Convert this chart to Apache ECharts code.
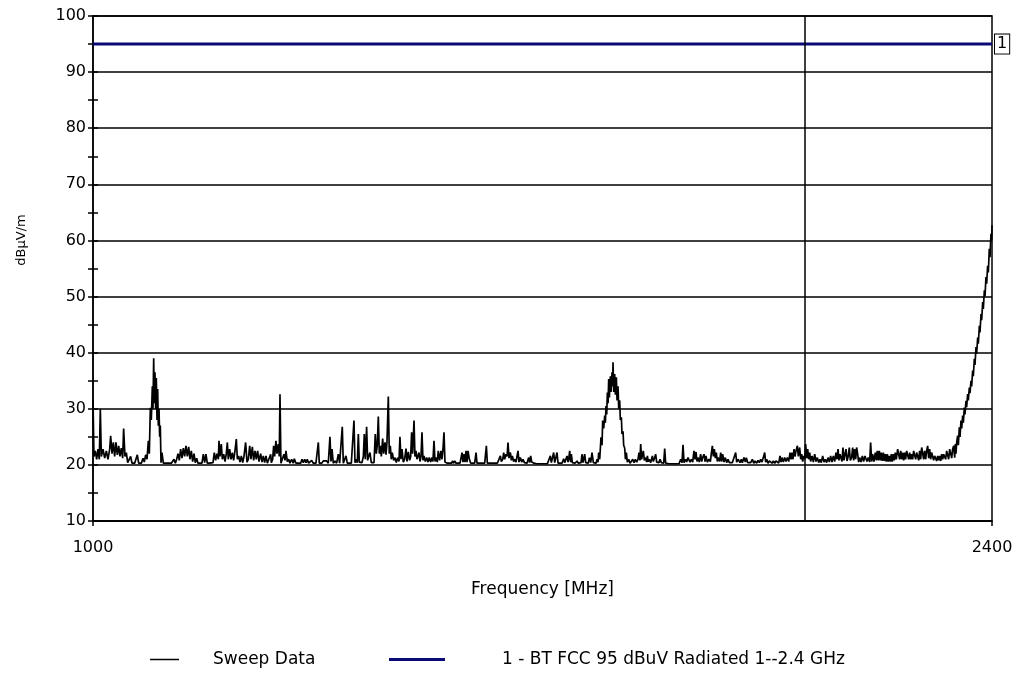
<!DOCTYPE html>
<html>
<head>
<meta charset="utf-8">
<script src="https://cdn.jsdelivr.net/npm/echarts@6/dist/echarts.min.js"></script>
<style>
html,body{margin:0;padding:0;background:#fff;}
#chart{width:1020px;height:698px;}
</style>
</head>
<body>
<div id="chart"></div>
<script>
// ---- data ----
const xRange = [1000, 2400];              // MHz
const yRange = [10, 100];                 // dBµV/m
const xTickLabels = ['1000', '2400'];
const limitName = '1 - BT FCC 95 dBuV Radiated 1--2.4 GHz';
const limitLevel = 95;
const limitLine = [[1000, 95], [2400, 95]];
const markerFreq = 2109;
const sweepName = 'Sweep Data';
// [frequency MHz, level dBµV/m]
const sweepData = [
[1000,31.5],[1001.5,21.5],[1003.6,22.5],[1005.7,21.0],[1007.8,22.8],[1009.8,21.0],[1011.4,30.0],[1013,21.5],[1015.6,22.8],[1018.2,21.2],
[1020.8,22.5],[1023.3,21.0],[1026,22.8],[1027.5,25.2],[1029.6,22.0],[1031.7,24.0],[1033.7,21.5],[1035.8,24.0],[1037.9,21.8],[1040,23.4],
[1042,21.5],[1044.1,23.0],[1046.2,21.2],[1047.7,26.5],[1049.8,21.5],[1051.9,22.2],[1054,20.4],[1056.6,20.3],[1058.6,21.5],[1060.7,20.3],
[1062.8,20.4],[1064.9,20.3],[1067,20.4],[1069,21.8],[1071.1,20.3],[1073.2,20.3],[1075.3,20.3],[1077.9,21.2],[1079.9,20.5],[1082,21.8],
[1084.1,21.0],[1086.2,24.3],[1087.7,22.0],[1089.3,30.2],[1090.8,28.0],[1092.4,34.0],[1093.4,30.0],[1094.5,39.0],[1095.5,31.0],[1096.5,36.5],
[1097.6,30.0],[1098.6,35.5],[1099.7,28.0],[1100.7,33.5],[1101.7,27.0],[1102.8,30.0],[1103.8,25.0],[1104.8,27.0],[1105.9,20.4],[1107.4,22.2],
[1109.5,20.3],[1112.6,20.3],[1116.8,20.3],[1122,20.3],[1126.1,21.0],[1128.2,20.3],[1130.3,21.0],[1132.4,22.0],[1134.4,20.8],[1136.5,22.8],
[1138.6,21.2],[1140.7,23.0],[1142.7,21.5],[1144.8,23.4],[1146.9,21.5],[1149,23.2],[1151,21.0],[1153.1,22.5],[1155.2,20.6],[1157.3,22.0],
[1159.3,20.4],[1161.4,21.2],[1163.5,20.3],[1166.6,20.3],[1169.7,20.3],[1171.8,21.9],[1173.9,20.4],[1175.9,21.9],[1178,20.3],[1181.2,20.3],
[1184.3,20.3],[1186.9,20.4],[1188.9,22.2],[1191,20.8],[1193.1,22.0],[1195.2,21.0],[1196.2,24.3],[1197.8,21.5],[1199.8,23.7],[1201.4,21.0],
[1203.5,21.9],[1205.6,20.6],[1207.6,22.0],[1209.2,24.0],[1210.7,21.0],[1212.8,22.8],[1214.9,21.0],[1217,22.2],[1219,20.8],[1221.1,22.5],
[1223.2,24.6],[1224.8,21.0],[1226.8,21.6],[1228.9,20.5],[1231,21.6],[1233.1,20.4],[1235.1,21.5],[1237.7,24.0],[1239.8,20.5],[1241.9,21.0],
[1244,23.4],[1246,21.0],[1248.1,23.2],[1250.2,20.8],[1252.3,22.5],[1254.3,21.0],[1256.4,22.5],[1258.5,20.6],[1261.1,22.0],[1263.2,20.5],
[1265.2,21.6],[1267.3,20.4],[1269.4,21.6],[1271.5,20.3],[1273.6,20.6],[1276.7,21.9],
[1277.7,20.4],[1279.8,21.0],[1281.3,23.4],[1282.9,21.5],[1284.9,24.3],[1286.5,22.0],[1288.6,23.7],[1290.1,21.5],[1291.2,32.6],[1292.7,20.3],
[1294.8,20.3],[1297.4,21.9],[1299,20.8],[1300.5,22.5],[1302.6,20.6],[1304.7,21.0],[1306.7,20.3],[1309.3,21.0],[1311.9,20.3],[1313.5,21.1],
[1316.1,20.3],[1319.7,20.3],[1323.4,20.3],[1325.4,21.0],[1327.5,20.4],[1329.6,21.0],[1331.7,20.4],[1333.7,21.0],[1335.8,20.3],[1338.9,20.3],
[1340.5,20.8],[1343.1,20.3],[1347.2,20.3],[1350.9,24.0],[1352.4,20.3],[1356.1,20.3],[1358.7,20.7],[1361.3,20.4],[1363.9,20.7],[1366.4,20.3],
[1369,25.0],[1370.6,20.6],[1372.2,22.8],[1374.2,20.3],[1376.8,20.7],[1379.4,20.3],[1382,21.9],[1384.1,20.3],[1386.2,20.6],[1388.2,26.8],
[1389.8,20.3],[1392.4,20.4],[1393.9,21.6],[1396,20.3],[1399.1,20.3],[1402.3,20.3],[1404.3,20.6],[1406.4,27.9],[1408,20.4],[1409.5,21.0],
[1411.6,20.4],[1413.2,25.5],[1414.7,20.5],[1416.8,20.7],[1418.9,20.4],[1421,21.5],[1422.5,25.5],[1424.1,21.0],[1426.1,26.8],[1427.7,20.8],
[1429.3,21.5],[1431.3,22.2],[1433.4,20.4],[1435.5,20.6],[1437.6,20.4],[1439.6,25.5],[1441.2,22.0],[1442.7,23.5],[1444.3,28.6],[1445.9,22.0],
[1447.4,23.4],[1449,21.5],[1451.1,24.7],[1452.6,22.0],[1454.7,24.0],[1456.3,21.8],[1457.8,24.0],[1459.9,32.2],[1461.4,22.0],[1463,23.4],
[1464.5,21.0],[1466.1,22.2],[1468.2,20.8],[1470.3,21.3],[1472.3,20.4],[1474.4,21.3],[1476.5,20.6],[1478,25.0],[1479.6,21.0],[1481.2,22.8],
[1483.2,20.5],[1485.3,21.0],[1487.4,22.9],[1489,20.6],[1491,22.3],[1493.1,20.8],[1494.7,21.5],[1496.2,25.8],[1497.8,22.0],[1499.9,27.9],
[1501.4,21.5],[1503,22.5],[1504.5,21.0],[1506.1,21.6],[1507.6,22.2],[1509.2,20.6],[1510.8,21.5],[1512.3,25.8],[1513.9,20.8],[1515.4,21.6],
[1517.5,20.6],[1519.6,21.3],[1521.7,20.5],[1523.7,21.3],[1525.8,20.5],[1527.9,21.3],[1529.4,20.6],[1531,24.3],[1532.6,20.6],[1534.1,21.3],
[1536.2,20.5],[1537.7,22.5],[1539.8,20.8],[1541.9,22.5],[1543.5,21.0],[1545,22.8],[1546.6,25.8],[1548.1,20.5],[1549.7,20.7],[1551.8,20.3],
[1554.9,20.3],[1558,20.3],[1560.1,20.7],
[1561.2,20.3],[1563.3,20.7],[1565.3,20.3],[1568.4,20.3],[1571.6,20.3],[1573.6,20.4],[1574.7,22.2],[1576.2,20.5],[1577.8,21.9],[1579.3,20.5],
[1580.9,22.5],[1582.5,20.5],[1584,22.5],[1586.1,21.0],[1588.2,20.3],[1591.3,20.3],[1594.4,20.3],[1596.5,22.2],[1598,20.3],[1601.7,20.3],
[1605.8,20.3],[1610,20.3],[1612.6,23.4],[1614.1,20.3],[1617.2,20.3],[1621.4,20.3],[1625.5,20.3],[1629.7,20.3],[1632.8,20.4],[1634.4,21.6],
[1635.9,20.6],[1638,21.0],[1639.6,22.2],[1641.1,21.0],[1643.2,21.9],[1644.8,21.5],[1646.3,24.0],[1647.9,21.2],[1650,22.2],[1651.5,20.8],
[1653.1,21.6],[1655.1,20.6],[1657.2,21.0],[1658.8,20.5],[1660.3,21.5],[1661.9,22.5],[1663.4,20.5],[1665.5,21.3],[1667.6,20.5],[1669.7,21.0],
[1671.7,20.4],[1673.8,20.7],[1675.9,20.3],[1678.5,21.3],[1680,20.4],[1681.6,21.6],[1683.2,20.5],[1684.7,20.7],[1686.8,20.3],[1688.9,20.6],
[1690.9,20.2],[1695.1,20.2],[1699.3,20.2],[1703.4,20.2],[1707.6,20.2],[1710.7,20.3],[1712.2,21.6],[1713.8,20.4],[1715.9,20.5],[1717.4,22.2],
[1719,20.4],[1721.1,20.6],[1722.6,22.2],[1724.2,20.3],[1727.3,20.3],[1730.4,20.3],[1733,21.1],[1734.6,20.4],[1736.6,20.7],[1738.2,21.6],
[1739.7,20.5],[1740.8,21.0],[1742.3,22.5],[1743.9,20.5],[1744.9,21.9],[1746.5,20.4],[1748.6,20.7],[1750.6,20.3],[1753.8,20.7],[1755.8,20.3],
[1757.9,20.3],[1760,20.4],[1761.5,21.9],[1763.1,20.4],[1764.1,20.7],[1765.7,21.9],[1767.3,20.4],[1769.3,20.7],[1771.4,20.3],[1773,21.3],
[1775.1,20.4],[1777.1,22.2],[1779.2,20.4],[1781.3,20.7],[1783.4,20.3],[1784.9,21.0],[1786.5,20.5],[1787.5,22.2],[1789.1,21.0],[1791.1,24.9],
[1792.7,23.5],[1793.7,27.9],[1795.3,26.5],[1796.9,28.8],[1797.9,27.5],[1798.9,30.5],[1800,29.0],[1801,32.9],[1802.1,31.0],[1803.1,35.3],
[1804.1,32.0],[1805.7,35.8],[1806.7,33.0],[1808.3,36.5],[1809.3,34.0],[1809.8,38.3],[1810.9,33.0],[1812.4,36.2],[1813.5,32.5],[1815,35.6],
[1816.1,31.5],[1817.6,34.0],[1818.7,30.0],[1820.2,31.5],[1821.2,28.0],[1822.8,28.5],[1823.8,25.5],[1825.4,26.0],[1826.4,23.5],[1828,23.0],
[1829.1,21.0],[1830.6,22.2],[1832.1,20.5],[1834.2,21.0],[1836.3,20.3],[1838.4,20.4],[1840.5,21.0],[1842.5,20.4],
[1844.6,21.0],[1846.7,20.5],[1848.7,21.0],[1850.3,22.2],[1851.8,20.8],[1852.9,23.7],[1854.4,21.0],[1856,22.0],[1857,22.5],[1858.6,20.8],
[1860.7,21.3],[1862.2,20.5],[1863.3,21.6],[1864.8,20.6],[1866.4,21.0],[1868.5,20.4],[1871.1,21.6],[1872.6,20.6],[1874.7,21.3],[1876.2,21.9],
[1877.8,20.5],[1879.9,20.7],[1881.4,20.4],[1883,21.0],[1885.1,20.4],[1886.6,20.4],[1888.7,20.3],[1890.3,22.9],[1891.8,20.3],[1893.4,20.2],
[1897,20.2],[1902.2,20.2],[1907.4,20.2],[1912.6,20.2],[1915.2,21.0],[1917.3,20.4],[1918.8,23.6],[1920.4,20.4],[1923,21.0],[1924.5,20.5],
[1926.6,21.3],[1928.2,21.6],[1929.7,20.5],[1931.8,21.0],[1933.9,20.5],[1935.9,22.5],[1937.5,21.0],[1939.1,22.3],[1940.6,20.6],[1942.2,21.3],
[1944.2,20.5],[1946.3,21.9],[1947.9,20.6],[1949.4,21.3],[1951.5,21.9],[1953.1,20.6],[1954.6,21.6],[1956.7,20.5],[1959.3,21.0],[1961.4,20.6],
[1962.9,22.0],[1964.5,23.4],[1966.1,21.5],[1967.6,22.8],[1969.2,21.2],[1970.7,22.2],[1972.3,20.6],[1974.4,21.3],[1975.9,20.6],[1977.5,22.2],
[1979,20.6],[1980.6,21.9],[1982.7,20.5],[1984.7,21.3],[1986.8,20.4],[1988.9,21.0],[1991,20.4],[1993,20.7],[1995.6,20.4],[1998.2,20.3],
[2000.8,22.2],[2002.4,20.5],[2004.5,21.0],[2006,21.3],[2007.6,20.4],[2009.7,21.0],[2011.2,20.4],[2013.8,21.3],[2015.9,20.5],[2017.4,21.3],
[2019.5,20.4],[2021.6,20.7],[2024.2,20.4],[2026.8,21.0],[2028.9,20.3],[2030.9,20.7],[2033.5,20.3],[2035.6,20.8],[2037.7,20.4],[2039.8,21.0],
[2041.8,20.5],[2043.9,21.3],[2046,22.2],[2047.5,20.5],[2049.1,21.0],[2051.2,20.3],[2053.3,20.7],[2055.3,21.0],[2057.4,20.3],[2059.5,20.7],
[2061.6,20.3],[2063.6,20.7],[2065.7,20.7],[2067.8,20.3],[2069.9,21.6],[2071.4,20.5],[2073,21.3],[2075.1,20.5],[2077.1,21.3],[2079.2,20.6],
[2081.3,21.3],[2083.4,20.6],[2085.5,22.2],[2087,21.0],[2088.6,22.2],[2090.1,21.0],[2091.7,22.8],[2093.2,21.5],[2094.8,22.5],[2096.9,23.4],
[2098.4,21.5],[2100.5,23.1],[2102.1,21.0],[2103.6,21.9],[2105.2,20.6],[2106.7,21.6],[2108.3,21.0],[2109.8,23.7],[2111.4,21.2],[2113,22.8],
[2114.5,21.0],[2116.1,22.2],[2117.6,20.6],[2119.7,21.6],[2121.8,20.5],[2123.9,21.9],[2125.9,20.6],
[2128,21.3],[2130.1,20.4],[2132.1,21.0],[2134.2,20.4],[2136.3,21.6],[2138.4,20.5],[2140.4,21.0],[2142.5,20.4],[2144.6,21.3],[2146.7,20.5],
[2148.7,21.6],[2150.8,20.5],[2152.9,21.6],[2155,20.6],[2157,22.2],[2158.6,21.0],[2160.2,22.8],[2161.7,20.8],[2163.3,21.9],[2164.8,22.2],
[2166.4,20.6],[2167.9,23.1],[2169.5,20.8],[2171.1,21.9],[2172.6,22.8],[2174.2,20.7],[2175.7,21.3],[2177.8,23.1],[2179.4,20.8],[2181.4,21.3],
[2183,23.1],[2184.6,20.8],[2186.1,22.8],[2187.7,21.0],[2189.2,23.1],[2190.8,21.9],[2192.3,20.5],[2193.9,21.3],[2196,20.5],[2198.1,21.6],
[2200.1,20.6],[2202.2,21.6],[2203.8,21.9],[2205.3,20.6],[2207.4,21.3],[2209.5,20.5],[2211,24.0],[2212.6,20.6],[2214.1,21.9],[2216.2,20.6],
[2218.3,22.2],[2219.9,20.8],[2221.4,22.5],[2223,20.8],[2224.5,22.5],[2226.1,20.8],[2227.6,22.2],[2229.2,20.7],[2230.8,22.2],[2232.3,20.7],
[2233.9,21.9],[2235.4,20.6],[2237,21.9],[2238.5,20.6],[2240.1,21.6],[2241.7,20.6],[2243.2,21.9],[2244.8,20.6],[2246.3,21.9],[2247.9,20.8],
[2249.4,22.2],[2251,21.0],[2253.1,22.8],[2254.6,23.1],[2256.2,21.0],[2257.8,22.5],[2259.3,21.0],[2260.9,22.2],[2262.4,20.8],[2264,22.2],
[2265.5,21.0],[2267.1,22.5],[2268.7,22.8],[2270.2,21.0],[2271.8,22.2],[2273.3,21.0],[2274.9,21.9],[2276.4,21.0],[2278,22.5],[2279.5,22.8],
[2281.1,21.0],[2282.7,22.2],[2284.2,21.9],[2285.8,20.8],[2287.3,22.5],[2288.9,21.0],[2290.5,23.1],[2292,22.8],[2293.6,21.0],[2295.1,22.5],
[2296.7,21.0],[2298.2,22.5],[2299.8,23.4],[2301.4,21.2],[2302.9,22.8],[2304.5,21.0],[2306,22.2],[2307.6,21.9],[2309.1,20.8],[2310.7,21.6],
[2312.3,21.3],[2313.8,20.7],[2315.4,21.6],[2316.9,20.8],[2318.5,21.6],[2320.1,20.7],[2321.6,21.9],[2323.2,21.0],[2324.7,21.9],[2326.3,22.2],
[2327.8,21.0],[2329.4,22.5],[2330.9,22.8],[2332.5,21.0],[2334.1,22.8],[2335.6,23.1],[2337.2,21.2],[2338.7,22.8],[2340.3,23.4],[2341.9,21.3],
[2342.9,23.7],[2343.9,22.0],[2345,24.0],[2346.5,25.2],[2347.6,23.5],[2349.1,26.7],[2350.2,25.0],[2351.7,27.9],[2352.8,26.5],[2354.3,28.8],
[2355.4,27.5],[2356.9,30.2],[2357.9,29.0],[2359.5,31.4],[2360.5,30.3],[2362.1,32.6],[2363.1,31.5],[2364.7,33.8],[2365.7,32.8],[2367.3,35.0],
[2368.3,34.0],[2369.9,36.8],[2370.9,35.8],[2372.5,38.9],[2373.5,37.8],[2375.1,41.0],[2376.1,39.8],[2377.7,42.7],[2378.7,41.6],[2380.3,44.8],
[2381.3,43.6],[2382.9,46.9],[2383.9,45.8],[2385.5,49.0],[2386.5,47.8],[2388.1,51.1],[2389.1,50.0],[2390.6,53.5],[2391.7,52.3],[2393.2,55.5],
[2394.3,54.3],[2395.8,58.5],[2396.9,57.0],[2398.4,61.2],[2399.5,60.0],[2400,62.7]
];

// ---- chart ----
const FONT = '"DejaVu Sans", Verdana, sans-serif';
const chart = echarts.init(document.getElementById('chart'), null, {renderer: 'canvas'});

const baseY = {
  type: 'value', min: yRange[0], max: yRange[1], position: 'left', offset: 0,
  axisLine: {show: false}, axisLabel: {show: false}, splitLine: {show: false}
};
const GRIDW = 1.5;

chart.setOption({
  animation: false,
  backgroundColor: '#fff',
  grid: {left: 93, right: 28, top: 16, bottom: 177, show: true, borderColor: '#000', borderWidth: GRIDW, backgroundColor: 'transparent'},
  xAxis: {
    type: 'value', min: xRange[0], max: xRange[1], interval: xRange[1] - xRange[0],
    name: 'Frequency [MHz]', nameLocation: 'middle', nameGap: 60,
    nameTextStyle: {color: '#000', fontSize: 17, fontFamily: FONT},
    axisLine: {show: true, lineStyle: {color: '#000', width: GRIDW}},
    axisTick: {show: true, length: 5, lineStyle: {color: '#000', width: GRIDW}},
    axisLabel: {color: '#000', fontSize: 16, fontFamily: FONT, margin: 19,
      formatter: v => xTickLabels[v === xRange[0] ? 0 : 1]},
    splitLine: {show: false}
  },
  yAxis: [
    {
      type: 'value', min: yRange[0], max: yRange[1], interval: 10, position: 'left',
      axisLine: {show: true, lineStyle: {color: '#000', width: GRIDW}},
      axisTick: {show: false},
      axisLabel: {color: '#000', fontSize: 16, fontFamily: FONT, margin: 7},
      splitLine: {show: true, lineStyle: {color: '#000', width: GRIDW}}
    },
    Object.assign({}, baseY, {interval: 5, axisTick: {show: true, inside: true, length: 5, lineStyle: {color: '#000', width: GRIDW}}}),
    Object.assign({}, baseY, {interval: 5, axisTick: {show: true, inside: false, length: 5, lineStyle: {color: '#000', width: GRIDW}}})
  ],
  legend: [
    {data: [sweepName], left: 150, top: 651, padding: 0, icon: 'rect', itemWidth: 29, itemHeight: 1.5, itemGap: 0,
     textStyle: {color: '#000', fontSize: 17, fontFamily: FONT, padding: [0, 0, 0, 29]}, selectedMode: false},
    {data: [limitName], left: 389, top: 651, padding: 0, icon: 'rect', itemWidth: 56, itemHeight: 3, itemGap: 0,
     textStyle: {color: '#000', fontSize: 17, fontFamily: FONT, padding: [0, 0, 0, 52]}, selectedMode: false}
  ],
  graphic: [{
    type: 'text', x: 22, y: 240, rotation: Math.PI / 2,
    style: {text: 'dBµV/m', fill: '#000', font: '13px ' + FONT, align: 'center', verticalAlign: 'middle'}
  }],
  series: [
    {
      name: sweepName, type: 'line', data: sweepData, yAxisIndex: 0,
      symbol: 'none', showSymbol: false, clip: true,
      lineStyle: {color: '#000', width: 1.7}, itemStyle: {color: '#000'},
      markLine: {
        silent: true, symbol: 'none', label: {show: false},
        lineStyle: {color: '#000', width: GRIDW, type: 'solid'},
        data: [{xAxis: markerFreq}]
      }
    },
    {
      name: limitName, type: 'line', data: limitLine, yAxisIndex: 0,
      symbol: 'none', showSymbol: false,
      lineStyle: {color: '#0a0a78', width: 3}, itemStyle: {color: '#0a0a78'},
      endLabel: {
        show: true, formatter: '1', color: '#000', fontSize: 16, fontFamily: FONT,
        backgroundColor: '#fff', borderColor: '#000', borderWidth: 1, padding: [2, 2, 1, 2], distance: 3
      }
    }
  ]
});
</script>
</body>
</html>
